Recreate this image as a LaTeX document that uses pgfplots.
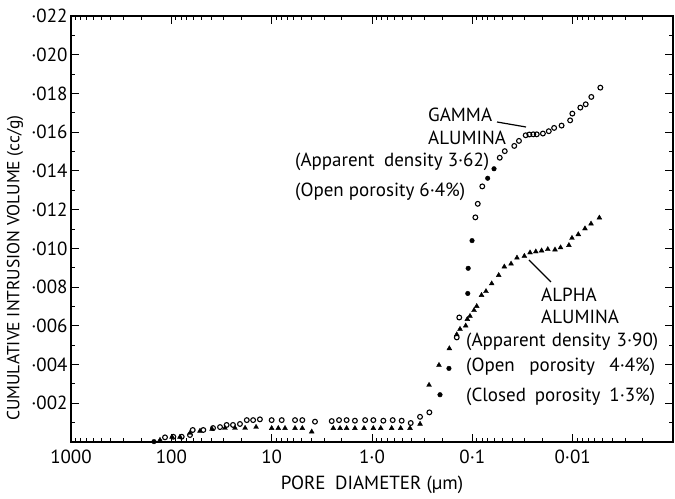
\documentclass[border=0pt]{standalone}
\usepackage{fontspec}
\setmainfont{PT Sans}
\usepackage{pgfplots}
\pgfplotsset{compat=1.18}
\begin{document}
\fontsize{19}{22}\selectfont
\begin{tikzpicture}
\begin{axis}[
  scale only axis, width=602pt, height=426pt,
  xmode=log, x dir=reverse, xmin=0.001, xmax=1000,
  ymin=0, ymax=0.022,
  scaled y ticks=false,
  xtick={1000,100,10,1,0.1,0.01},
  xticklabels={1000,100,10,1·0,0·1,0·01},
  minor xtick={0.002,0.003,0.004,0.005,0.006,0.007,0.008,0.009,
               0.02,0.03,0.04,0.05,0.06,0.07,0.08,0.09,
               0.2,0.3,0.4,0.5,0.6,0.7,0.8,0.9,
               2,3,4,5,6,7,8,9,20,30,40,50,60,70,80,90,
               200,300,400,500,600,700,800,900},
  ytick={0.002,0.004,0.006,0.008,0.010,0.012,0.014,0.016,0.018,0.020,0.022},
  yticklabels={·002,·004,·006,·008,·010,·012,·014,·016,·018,·020,·022},
  minor ytick={0.001,0.003,0.005,0.007,0.009,0.011,0.013,0.015,0.017,0.019,0.021},
  tick align=inside,
  major tick length=8pt, minor tick length=4pt,
  every tick/.style={black, line width=0.9pt},
  axis line style={line width=1.2pt},
  yticklabel style={xshift=3pt},
  xticklabel style={yshift=-1pt},
  clip=false,
]
% GAMMA ALUMINA (open circles)
\addplot[only marks, mark=o, mark size=2.4pt, mark options={line width=1.1pt, black}] coordinates {
(115.6,0.00024) (95.5,0.00027) (78.8,0.00027) (65.2,0.00036) (61.2,0.00062)
(48.0,0.00062) (38.4,0.00072) (32.7,0.00077) (28.1,0.00088) (24.3,0.00088)
(20.7,0.00093) (17.7,0.00113) (15.3,0.00113) (13.1,0.00117) (10.0,0.00113)
(7.94,0.00113) (5.85,0.00113) (4.95,0.00113) (3.70,0.00105) (2.52,0.00108)
(2.13,0.00113) (1.79,0.00113) (1.48,0.00110) (1.17,0.00113) (0.97,0.00113)
(0.771,0.00110) (0.622,0.00113) (0.506,0.00110) (0.411,0.00098) (0.332,0.00130)
(0.268,0.00153) (0.143,0.00540) (0.135,0.00643) (0.0933,0.0116) (0.0883,0.0123)
(0.0796,0.0132) (0.0533,0.01468) (0.0475,0.01502) (0.0382,0.01529) (0.0343,0.01555)
(0.0294,0.01584) (0.0270,0.01588) (0.0247,0.01589) (0.0228,0.01589) (0.0198,0.01593)
(0.0173,0.01605) (0.0153,0.01622) (0.0129,0.01634) (0.0106,0.01661) (0.01007,0.01696)
(0.00839,0.01727) (0.00741,0.01744) (0.00652,0.01782) (0.00530,0.01830)
};
% GAMMA ALUMINA (filled dots)
\addplot[only marks, mark=*, mark size=2.3pt, black] coordinates {
(148.9,0.00002) (0.210,0.00244) (0.171,0.00380) (0.111,0.00767) (0.110,0.00897)
(0.1007,0.0104) (0.0703,0.01362) (0.0608,0.01411)
};
% ALPHA ALUMINA (triangles)
\addplot[only marks, mark=triangle*, mark size=2.8pt, black] coordinates {
(129.7,0.0001) (98.4,0.00026) (82.0,0.00026) (65.2,0.00046) (51.8,0.00057)
(39.3,0.00067) (29.2,0.00072) (23.2,0.00072) (18.4,0.00072) (14.3,0.00077)
(10.0,0.00071) (8.59,0.00071) (7.36,0.00071) (5.85,0.00071) (4.95,0.00071)
(3.99,0.00053) (2.43,0.00071) (2.08,0.00071) (1.79,0.00071) (1.48,0.00071)
(1.20,0.00071) (0.97,0.00071) (0.818,0.00071) (0.637,0.00071) (0.518,0.00071)
(0.418,0.00071) (0.332,0.00093) (0.270,0.00294) (0.215,0.00397) (0.1695,0.00483)
(0.143,0.00555) (0.1327,0.00583) (0.1164,0.00600) (0.1122,0.00634) (0.1055,0.00650)
(0.0962,0.00680) (0.0904,0.00701) (0.0810,0.00758) (0.0731,0.00778) (0.0641,0.00818)
(0.0546,0.00861) (0.0480,0.00905) (0.0411,0.00920) (0.0359,0.00951) (0.0303,0.00960)
(0.0266,0.00978) (0.0233,0.00983) (0.0204,0.00988) (0.0177,0.00995) (0.0150,0.00993)
(0.0132,0.01004) (0.0109,0.01016) (0.01016,0.01053) (0.00879,0.01072) (0.00754,0.01102)
(0.00656,0.01127) (0.00542,0.01158)
};
\end{axis}
\begin{scope}[shift={([xshift=-71pt,yshift=442pt]current axis.south west)}, x=1pt, y=-1pt]
  \node[anchor=center] at (372,485) {PORE\enspace DIAMETER (µm)};
  \node[anchor=center, rotate=90] at (15,268) {\fontsize{17.5}{20}\selectfont CUMULATIVE INTRUSION VOLUME (cc/g)};
  \node[anchor=west, inner sep=0pt] at (428,115) {GAMMA};
  \node[anchor=west, inner sep=0pt] at (428,138) {ALUMINA};
  \node[anchor=west, inner sep=0pt] at (295,162) {(Apparent\enspace density 3·62)};
  \node[anchor=west, inner sep=0pt] at (295,192) {(Open porosity 6·4\%)};
  \draw[line width=1.2pt] (497,122) -- (526,127);
  \node[anchor=west, inner sep=0pt] at (541,295) {ALPHA};
  \node[anchor=west, inner sep=0pt] at (541,317) {ALUMINA};
  \node[anchor=west, inner sep=0pt] at (466,342) {\makebox[192pt][s]{(Apparent density 3·90)}};
  \node[anchor=west, inner sep=0pt] at (466,367) {\makebox[189pt][s]{(Open porosity 4·4\%)}};
  \node[anchor=west, inner sep=0pt] at (466,397) {\makebox[189pt][s]{(Closed porosity 1·3\%)}};
  \draw[line width=1.2pt] (529,260) -- (551,282);
\end{scope}
\pgfresetboundingbox
\path ([xshift=-71pt,yshift=-57pt]current axis.south west) rectangle ([xshift=2pt,yshift=16pt]current axis.north east);
\end{tikzpicture}
\end{document}
